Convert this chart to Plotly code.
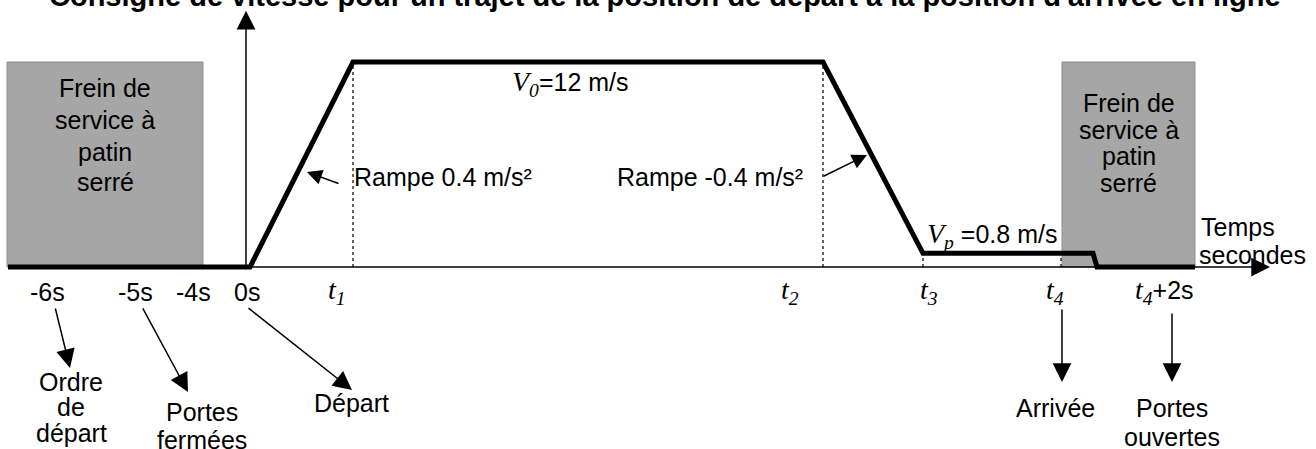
import plotly.graph_objects as go

# Schematic time axis (not to scale): 0 = départ (0s), arbitrary units
profile_t = [-242, 0, 103, 573, 673, 843, 847, 945]
profile_v = [0, 0, 12, 12, 0.8, 0.8, 0, 0]          # vitesse, m/s

guide_t = [103, 573, 673, 811]                      # t1, t2, t3, t4
guide_v = [12, 12, 0.8, 0.8]

brake_start = [-243, 812]
brake_end = [-47, 945]
brake_top = 12
brake_lines = ["Frein de", "service à", "patin", "serré"]

tick_t = [-203, -115, -57, -3, 87, 540, 679, 805, 914]
tick_labels = [
    "-6s", "-5s", "-4s", "0s",
    "<i>t</i><sub><i>1</i></sub>",
    "<i>t</i><sub><i>2</i></sub>",
    "<i>t</i><sub><i>3</i></sub>",
    "<i>t</i><sub><i>4</i></sub>",
    "<i>t</i><sub><i>4</i></sub><span style='font-family:Liberation Sans;font-size:25px'>+2s</span>",
]
tick_is_serif = [False, False, False, False, True, True, True, True, True]

title = "Consigne de vitesse pour un trajet de la position de départ à la position d'arrivée en ligne"

SANS = "Liberation Sans"
SERIF = "Liberation Serif"
FS = 25

fig = go.Figure()

# speed profile
fig.add_trace(go.Scatter(x=profile_t, y=profile_v, mode="lines",
                         line=dict(color="black", width=5), hoverinfo="skip"))

# dotted guides
gx, gy = [], []
for t, v in zip(guide_t, guide_v):
    gx += [t, t, None]
    gy += [0, v, None]
fig.add_trace(go.Scatter(x=gx, y=gy, mode="lines",
                         line=dict(color="black", width=1.2, dash="dot"), hoverinfo="skip"))

# brake zones
for x0, x1 in zip(brake_start, brake_end):
    fig.add_shape(type="rect", x0=x0, x1=x1, y0=0, y1=brake_top, layer="below",
                  fillcolor="#a6a6a6", line=dict(color="#8f8f8f", width=1))

ann = []

# brake zone captions, one line at a time (spacing differs between the two boxes)
line_y = [[10.48, 8.61, 6.76, 4.98], [9.60, 8.02, 6.50, 4.92]]
for x0, x1, ys in zip(brake_start, brake_end, line_y):
    for s, y in zip(brake_lines, ys):
        ann.append(dict(x=(x0 + x1) / 2, y=y, text=s, showarrow=False,
                        font=dict(family=SANS, size=FS, color="black")))

# axes with arrowheads
ann.append(dict(x=1020, y=0, ax=-242, ay=0, axref="x", ayref="y", text="",
                showarrow=True, arrowhead=2, arrowsize=2.5, arrowwidth=1.5, arrowcolor="black"))
ann.append(dict(x=-4, y=15.0, ax=-4, ay=0, axref="x", ayref="y", text="",
                showarrow=True, arrowhead=2, arrowsize=2.5, arrowwidth=1.5, arrowcolor="black"))

# time tick labels
for t, lab, serif in zip(tick_t, tick_labels, tick_is_serif):
    ann.append(dict(x=t, y=-1.46, text=lab, showarrow=False,
                    font=dict(family=SERIF if serif else SANS, size=28 if serif else FS,
                              color="black")))

# event pointers
pointers = [
    ((-195, -2.34), (-180, -5.91)),
    ((-108, -2.34), (-62, -7.32)),
    ((-3, -2.34), (102, -7.20)),
    ((812, -2.40), (812, -6.73)),
    ((922, -2.63), (922, -6.73)),
]
for (tx, ty), (hx, hy) in pointers:
    ann.append(dict(x=hx, y=hy, ax=tx, ay=ty, axref="x", ayref="y", text="",
                    showarrow=True, arrowhead=2, arrowsize=2.5, arrowwidth=1.5, arrowcolor="black"))

event_lines = [
    (-179, -6.73, "Ordre"), (-179, -8.20, "de"), (-179, -9.72, "départ"),
    (-48, -8.49, "Portes"), (-48, -10.13, "fermées"),
    (101, -7.96, "Départ"),
    (805, -8.25, "Arrivée"),
    (922, -8.25, "Portes"), (922, -9.95, "ouvertes"),
    (988, 2.34, "Temps"), (1002, 0.70, "secondes"),
]
for x, y, s in event_lines:
    ann.append(dict(x=x, y=y, text=s, showarrow=False,
                    font=dict(family=SANS, size=FS, color="black")))

# ramp labels
ann.append(dict(x=102, y=5.27, text="Rampe 0.4 m/s²", xanchor="left", showarrow=False,
                font=dict(family=SANS, size=FS, color="black")))
ann.append(dict(x=57, y=5.56, ax=90, ay=4.86, axref="x", ayref="y", text="",
                showarrow=True, arrowhead=2, arrowsize=2, arrowwidth=1.5, arrowcolor="black"))
ann.append(dict(x=555, y=5.27, text="Rampe -0.4 m/s²", xanchor="right", showarrow=False,
                font=dict(family=SANS, size=FS, color="black")))
ann.append(dict(x=617, y=6.56, ax=572, ay=5.27, axref="x", ayref="y", text="",
                showarrow=True, arrowhead=2, arrowsize=2, arrowwidth=1.5, arrowcolor="black"))

# speed labels
ann.append(dict(x=260, y=10.77, xanchor="left", showarrow=False,
                text="<span style='font-family:Liberation Serif;font-size:28px'><i>V</i><sub><i>0</i></sub></span>=12 m/s",
                font=dict(family=SANS, size=FS, color="black")))
ann.append(dict(x=675, y=1.87, xanchor="left", showarrow=False,
                text="<span style='font-family:Liberation Serif;font-size:28px'><i>V</i><sub><i>p</i></sub></span> =0.8 m/s",
                font=dict(family=SANS, size=FS, color="black")))

# title (cut off at the top in the original)
ann.append(dict(x=0.505, y=1.009, xref="paper", yref="paper", yanchor="middle",
                text="<b>" + title + "</b>",
                showarrow=False, font=dict(family=SANS, size=29, color="black")))

fig.update_layout(
    annotations=ann,
    width=1316, height=449,
    margin=dict(l=0, r=0, t=0, b=0),
    paper_bgcolor="white", plot_bgcolor="white",
    showlegend=False,
    xaxis=dict(range=[-250, 1066], visible=False, fixedrange=True),
    yaxis=dict(range=[-10.654, 15.63], visible=False, fixedrange=True),
)

# drop the default 8px page margin so the figure fills the window exactly
fig.write_html("out.html", config={"displayModeBar": False},
               post_script="document.body.style.margin='0';")
